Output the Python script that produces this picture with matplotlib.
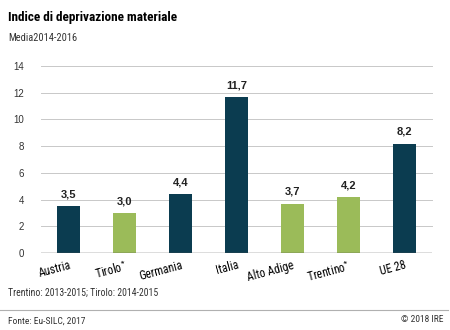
import matplotlib
matplotlib.use("Agg")
import matplotlib.pyplot as plt
from matplotlib.lines import Line2D
from matplotlib import font_manager

categories = ["Austria", "Tirolo$^{*}$", "Germania", "Italia", "Alto Adige", "Trentino$^{*}$", "UE 28"]
values = [3.5, 3.0, 4.4, 11.7, 3.7, 4.2, 8.2]
value_labels = ["3,5", "3,0", "4,4", "11,7", "3,7", "4,2", "8,2"]
is_regional = [False, True, False, False, True, True, False]
yticks = [0, 2, 4, 6, 8, 10, 12, 14]

DARK = "#0b3c50"
GREEN = "#9bbb59"

installed = {f.name for f in font_manager.fontManager.ttflist}
narrow = next((n for n in ["Liberation Sans Narrow", "Roboto Condensed", "Open Sans Condensed",
                           "DejaVu Sans Condensed"] if n in installed), "Roboto")
NARROW = [narrow, "DejaVu Sans"]

plt.rcParams["font.family"] = ["Liberation Sans", "DejaVu Sans"]
plt.rcParams["mathtext.fontset"] = "custom"
plt.rcParams["mathtext.rm"] = narrow
plt.rcParams["mathtext.it"] = narrow
plt.rcParams["mathtext.bf"] = narrow

fig = plt.figure(figsize=(4.5, 3.3), dpi=100)
ax = fig.add_axes([0.091, 0.233, 0.869, 0.567])

x = list(range(len(categories)))
colors = [GREEN if r else DARK for r in is_regional]
ax.bar(x, values, width=0.41, color=colors, zorder=3)

for xi, v, lab in zip(x, values, value_labels):
    ax.text(xi, v + 0.5, lab, ha="center", va="bottom", fontsize=8,
            fontweight="bold", color="#222222", zorder=4)

ax.set_xlim(-0.5, len(categories) - 0.5)
ax.set_ylim(0, 14)
ax.set_yticks(yticks)
ax.set_yticklabels([str(t) for t in yticks], fontsize=7, color="#333333")
for t in yticks[1:]:
    ax.axhline(t, color="#c8c8c8", lw=0.7, zorder=1, clip_on=False)
ax.axhline(0, color="#555555", lw=1.0, zorder=4)

ax.set_xticks(x)
ax.set_xticklabels(categories, fontsize=8.5, rotation=15, ha="right",
                   va="top", rotation_mode="anchor", family=NARROW)
ax.tick_params(axis="both", length=0)
ax.tick_params(axis="y", pad=12)
ax.tick_params(axis="x", pad=4)
for s in ax.spines.values():
    s.set_visible(False)

fig.text(0.018, 0.948, "Indice di deprivazione materiale", fontsize=9.5,
         fontweight="bold", va="center", ha="left", family=NARROW)
fig.text(0.018, 0.885, "Media2014-2016", fontsize=7.5, va="center", ha="left",
         family=NARROW, color="#333333")
fig.text(0.018, 0.112, "Trentino: 2013-2015; Tirolo: 2014-2015", fontsize=7,
         va="center", ha="left", family=NARROW, color="#333333")
fig.add_artist(Line2D([0.0, 0.995], [0.06, 0.06], transform=fig.transFigure,
                      color="#b0b0b0", lw=0.8))
fig.text(0.018, 0.028, "Fonte: Eu-SILC, 2017", fontsize=6.8, va="center", ha="left",
         family=NARROW, color="#333333")
fig.text(0.985, 0.032, "© 2018 IRE", fontsize=6.8, va="center", ha="right",
         family=NARROW, color="#333333")

fig.savefig("out.png", dpi=100, facecolor="white")
